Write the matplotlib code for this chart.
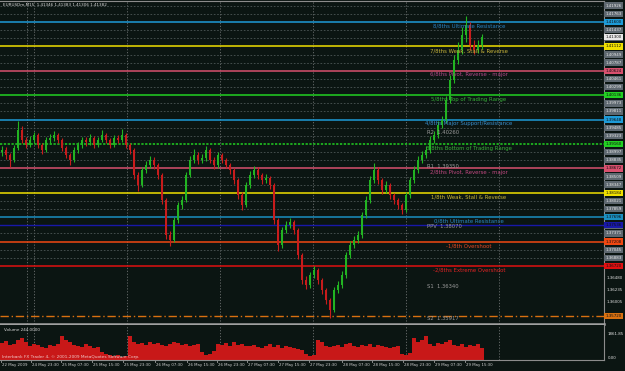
import matplotlib
matplotlib.use('Agg')
import matplotlib.pyplot as plt

# ---------------- data (EURUSDm, aggregated ~1 candle per hour) ----------------
opens = [1.3900,1.3904,1.3894,1.3884,1.3908,1.3944,1.3924,1.3914,1.3924,1.3934,
         1.3914,1.3904,1.3924,1.3928,1.3934,1.3924,1.3908,1.3894,1.3884,1.3904,
         1.3914,1.3924,1.3920,1.3928,1.3914,1.3924,1.3934,1.3924,1.3914,1.3928,
         1.3924,1.3934,1.3914,1.3904,1.3854,1.3834,1.3864,1.3874,1.3884,1.3874,
         1.3854,1.3804,1.3734,1.3724,1.3764,1.3794,1.3804,1.3854,1.3884,1.3894,
         1.3884,1.3888,1.3904,1.3884,1.3874,1.3894,1.3884,1.3874,1.3864,1.3844,
         1.3814,1.3794,1.3834,1.3854,1.3864,1.3854,1.3844,1.3848,1.3834,1.3764,
         1.3714,1.3744,1.3754,1.3760,1.3744,1.3694,1.3644,1.3634,1.3654,1.3664,
         1.3644,1.3624,1.3604,1.3584,1.3624,1.3634,1.3654,1.3694,1.3714,1.3724,
         1.3734,1.3774,1.3804,1.3844,1.3864,1.3844,1.3824,1.3834,1.3814,1.3804,
         1.3794,1.3784,1.3814,1.3844,1.3864,1.3884,1.3894,1.3904,1.3924,1.3934,
         1.3954,1.3964,1.4004,1.4044,1.4084,1.4104,1.4134,1.4154,1.4114,1.4104,
         1.4114]
closes = [1.3904,1.3894,1.3884,1.3908,1.3944,1.3924,1.3914,1.3924,1.3934,1.3914,
          1.3904,1.3924,1.3928,1.3934,1.3924,1.3908,1.3894,1.3884,1.3904,1.3914,
          1.3924,1.3920,1.3928,1.3914,1.3924,1.3934,1.3924,1.3914,1.3928,1.3924,
          1.3934,1.3914,1.3904,1.3854,1.3834,1.3864,1.3874,1.3884,1.3874,1.3854,
          1.3804,1.3734,1.3724,1.3764,1.3794,1.3804,1.3854,1.3884,1.3894,1.3884,
          1.3888,1.3904,1.3884,1.3874,1.3894,1.3884,1.3874,1.3864,1.3844,1.3814,
          1.3794,1.3834,1.3854,1.3864,1.3854,1.3844,1.3848,1.3834,1.3764,1.3714,
          1.3744,1.3754,1.3760,1.3744,1.3694,1.3644,1.3634,1.3654,1.3664,1.3644,
          1.3624,1.3604,1.3584,1.3624,1.3634,1.3654,1.3694,1.3714,1.3724,1.3734,
          1.3774,1.3804,1.3844,1.3864,1.3844,1.3824,1.3834,1.3814,1.3804,1.3794,
          1.3784,1.3814,1.3844,1.3864,1.3884,1.3894,1.3904,1.3924,1.3934,1.3954,
          1.3964,1.4004,1.4044,1.4084,1.4104,1.4134,1.4154,1.4114,1.4104,1.4114,
          1.4130]
highs = [1.3912,1.3910,1.3898,1.3914,1.3962,1.3952,1.3930,1.3932,1.3940,1.3938,
         1.3918,1.3930,1.3936,1.3942,1.3938,1.3928,1.3912,1.3898,1.3910,1.3920,
         1.3930,1.3930,1.3936,1.3932,1.3930,1.3944,1.3938,1.3928,1.3934,1.3934,
         1.3946,1.3938,1.3918,1.3908,1.3860,1.3870,1.3882,1.3892,1.3890,1.3878,
         1.3858,1.3808,1.3742,1.3770,1.3800,1.3812,1.3860,1.3892,1.3906,1.3900,
         1.3896,1.3912,1.3908,1.3890,1.3900,1.3898,1.3888,1.3878,1.3868,1.3848,
         1.3820,1.3840,1.3862,1.3872,1.3870,1.3858,1.3856,1.3852,1.3838,1.3768,
         1.3750,1.3762,1.3768,1.3764,1.3748,1.3698,1.3652,1.3660,1.3672,1.3668,
         1.3648,1.3628,1.3608,1.3630,1.3642,1.3662,1.3700,1.3722,1.3732,1.3742,
         1.3780,1.3812,1.3852,1.3878,1.3870,1.3848,1.3842,1.3838,1.3818,1.3808,
         1.3798,1.3820,1.3850,1.3872,1.3892,1.3902,1.3912,1.3932,1.3942,1.3962,
         1.3972,1.4012,1.4054,1.4094,1.4120,1.4150,1.4172,1.4160,1.4124,1.4124,
         1.4136]
lows = [1.3892,1.3886,1.3870,1.3880,1.3904,1.3918,1.3908,1.3910,1.3918,1.3908,
        1.3896,1.3900,1.3918,1.3922,1.3918,1.3902,1.3888,1.3874,1.3880,1.3898,
        1.3908,1.3912,1.3914,1.3908,1.3910,1.3920,1.3918,1.3908,1.3910,1.3918,
        1.3920,1.3908,1.3896,1.3846,1.3822,1.3830,1.3858,1.3868,1.3866,1.3846,
        1.3796,1.3726,1.3712,1.3720,1.3758,1.3786,1.3800,1.3850,1.3878,1.3876,
        1.3878,1.3882,1.3878,1.3866,1.3868,1.3878,1.3868,1.3856,1.3836,1.3806,
        1.3784,1.3790,1.3828,1.3848,1.3846,1.3836,1.3838,1.3826,1.3756,1.3702,
        1.3708,1.3738,1.3748,1.3736,1.3686,1.3636,1.3626,1.3628,1.3648,1.3636,
        1.3616,1.3596,1.3568,1.3580,1.3618,1.3628,1.3648,1.3688,1.3708,1.3718,
        1.3728,1.3768,1.3798,1.3838,1.3836,1.3816,1.3818,1.3806,1.3796,1.3786,
        1.3776,1.3780,1.3808,1.3838,1.3858,1.3878,1.3888,1.3898,1.3918,1.3928,
        1.3948,1.3958,1.3998,1.4038,1.4076,1.4096,1.4120,1.4104,1.4096,1.4098,
        1.4106]
volumes = [970,1080,860,910,1140,1250,1030,800,910,860,
           740,680,860,800,910,1370,1140,1030,860,800,
           740,910,800,680,740,460,340,290,230,290,
           170,230,1370,1030,910,970,860,1030,910,970,
           860,800,910,1030,970,860,910,800,860,910,
           460,290,340,510,910,860,970,800,1030,860,
           910,800,800,860,740,680,800,910,740,860,
           680,800,740,680,630,570,340,230,290,1140,
           1030,800,740,800,860,740,910,970,800,740,
           860,800,910,740,860,800,740,680,740,800,
           340,290,400,1250,1030,1140,1370,910,800,970,
           910,1030,1140,860,800,910,740,860,800,910,
           680]

time_labels = ["22 May 2009", "24 May 23:30", "25 May 07:30", "25 May 15:30",
               "25 May 23:30", "26 May 07:30", "26 May 15:30", "26 May 23:30",
               "27 May 07:30", "27 May 15:30", "27 May 23:30", "28 May 07:30",
               "28 May 15:30", "28 May 23:30", "29 May 07:30", "29 May 15:30"]
time_pos = [0.5, 8.0, 15.5, 23.25, 31.0, 39.0, 47.0, 54.5, 62.0, 69.75,
            77.5, 85.75, 93.25, 101.0, 108.75, 116.5]
day_sep = [6.75, 8.5, 31.75, 55.0, 78.25, 101.5, 124.75]

mm_levels = [1.41600, 1.41112, 1.40624, 1.40136, 1.39648, 1.39160,
             1.38672, 1.38184, 1.37696, 1.37208, 1.36720]
mm_names = ["8/8ths Ultimate Resistance", "7/8ths Weak, Stall & Reverse",
            "6/8ths Pivot, Reverse - major", "5/8ths Top of Trading Range",
            "4/8ths Major Support/Resistance", "3/8ths Bottom of Trading Range",
            "2/8ths Pivot, Reverse - major", "1/8th Weak, Stall & Reverse",
            "0/8th Ultimate Resistance", "-1/8th Overshoot",
            "-2/8ths Extreme Overshoot"]
mm_line_colors = ["#1e9bd7", "#f0e000", "#d8506e", "#22d022", "#1e9bd7", "#22d022",
                  "#d8506e", "#f0e000", "#1a8fc0", "#f04812", "#e01010"]
mm_text_colors = ["#2a80c0", "#c8b43a", "#b04888", "#38b038", "#3a8cc8", "#38b038",
                  "#c04880", "#c8b43a", "#2a88c0", "#e04a24", "#e02424"]
mm_styles = ["-", "-", "-", "-", "-", (0, (1.5, 1)), "-", "-", "-", "-", "-"]

grey_levels = [1.41926, 1.41763, 1.41437, 1.41275, 1.40949, 1.40787, 1.40461,
               1.40299, 1.39973, 1.39811, 1.39485, 1.39323, 1.38997, 1.38835,
               1.38509, 1.38347, 1.38021, 1.37859, 1.37533, 1.37371, 1.37045,
               1.36883]

pivot_names = ["R2", "R1", "PPV", "S1", "S2"]
pivot_values = [1.40260, 1.39350, 1.38070, 1.36340, 1.35917]
pivot_text_y = [1.39380, 1.38700, 1.37500, 1.36320, 1.35660]
extra_lines = [1.37536, 1.35720]           # navy line, orange dash-dot
extra_colors = ["#1818a8", "#d87010"]
extra_styles = ["-", (0, (6, 2, 1, 2))]
plain_axis_labels = [1.36480, 1.36235, 1.36005]

# ---------------- figure ----------------
BG = "#0b1512"
W, H = 625, 371
fig = plt.figure(figsize=(W / 100, H / 100), dpi=100, facecolor=BG)

ax = fig.add_axes([0, (H - 324) / H, 604 / W, 323 / H], facecolor=BG)
axv = fig.add_axes([0, (H - 360) / H, 604 / W, 35 / H], facecolor=BG)

ymin, ymax = 1.3556, 1.4202
ax.set_xlim(0, 151)
ax.set_ylim(ymin, ymax)
axv.set_xlim(0, 151)
axv.set_ylim(0, 2000)

for a in (ax, axv):
    a.set_xticks([])
    a.set_yticks([])
    for s in a.spines.values():
        s.set_visible(False)
    a.spines["right"].set_visible(True)
    a.spines["right"].set_color("#8c8c8c")
    a.spines["right"].set_linewidth(0.8)
    for xv in day_sep:
        a.axvline(xv, color="#6c7070", lw=0.6, ls=(0, (1.5, 2)), zorder=1)

ax.spines["top"].set_visible(True)
ax.spines["top"].set_color("#8c8c8c")
ax.spines["top"].set_linewidth(0.8)
ax.spines["bottom"].set_visible(True)
ax.spines["bottom"].set_color("#a0a0a0")
ax.spines["bottom"].set_linewidth(1.8)
axv.spines["bottom"].set_visible(True)
axv.spines["bottom"].set_color("#8c8c8c")
axv.spines["bottom"].set_linewidth(0.8)

LBL = 2.9

def axis_label(lv, fc, tc):
    ax.text(1.002, lv, f"{lv:.5f}", transform=ax.get_yaxis_transform(),
            fontsize=LBL, color=tc, va="center", ha="left", clip_on=False,
            bbox=dict(boxstyle="square,pad=0.3", fc=fc, ec="none"))

# grey intermediate lines
for lv in grey_levels:
    ax.axhline(lv, color="#4c5656", lw=0.6, ls=(0, (2, 2)), zorder=1)
    axis_label(lv, "#5e6870", "#e8e8e8")

# murrey math lines
for lv, lc, st in zip(mm_levels, mm_line_colors, mm_styles):
    ax.axhline(lv, color=lc, lw=1.1, ls=st, zorder=2)
    axis_label(lv, lc, "#101010")

for lv, lc, st in zip(extra_lines, extra_colors, extra_styles):
    ax.axhline(lv, color=lc, lw=1.0, ls=st, zorder=2)
    axis_label(lv, lc, "#101010")

for lv in plain_axis_labels:
    ax.text(1.004, lv, f"{lv:.5f}", transform=ax.get_yaxis_transform(),
            fontsize=LBL, color="#e0e0e0", va="center", ha="left", clip_on=False)

# candles
xs = [i + 0.5 for i in range(len(closes))]
up = "#22b422"
dn = "#c81c1c"
cols = [up if c >= o else dn for o, c in zip(opens, closes)]
ax.vlines(xs, lows, highs, colors=cols, lw=0.8, zorder=3)
bottoms = [min(o, c) for o, c in zip(opens, closes)]
heights = [max(abs(c - o), 0.00008) for o, c in zip(opens, closes)]
ax.bar(xs, heights, bottom=bottoms, width=0.45, color=cols, lw=0, zorder=3)

# current price label
axis_label(closes[-1], "#e8e8e8", "#101010")

# level texts
for lv, name, tc in zip(mm_levels, mm_names, mm_text_colors):
    ax.annotate(name, (117.25, lv), xytext=(0, -1.2), textcoords="offset points",
                ha="center", va="top", fontsize=3.9, color=tc, zorder=4)

for nm, pv, ty in zip(pivot_names, pivot_values, pivot_text_y):
    ax.text(106.75, ty, f"{nm}  {pv:.5f}", ha="left", va="center",
            fontsize=3.8, color="#9a9a9a", zorder=4)

# title
fig.text(3 / W, 1 - 5 / H, "EURUSDm,M15  1.41346 1.41383 1.41306 1.41382",
         fontsize=3.0, color="#d8d8d8", ha="left", va="center")

# volume
axv.bar(xs, volumes, width=1.0, color="#c81818", lw=0, zorder=2)
axv.text(0.006, 0.86, "Volume 244.0000", transform=axv.transAxes, fontsize=3.0,
         color="#d8d8d8", ha="left", va="center")
axv.text(0.003, 0.09, "Interbank FX Trader 4, \u00a9 2001-2009 MetaQuotes Software Corp.",
         transform=axv.transAxes, fontsize=3.1, color="#f0c8c8", ha="left", va="center")
axv.text(1.006, 0.75, "1861.85", transform=axv.transAxes, fontsize=LBL,
         color="#e0e0e0", ha="left", va="center", clip_on=False)
axv.text(1.006, 0.05, "0.00", transform=axv.transAxes, fontsize=LBL,
         color="#e0e0e0", ha="left", va="center", clip_on=False)

# time axis labels
for tp, tl in zip(time_pos, time_labels):
    axv.text(tp, -0.08, tl, transform=axv.get_xaxis_transform(), fontsize=2.8,
             color="#d0d0d0", ha="left", va="top", clip_on=False)
    axv.plot([tp - 0.3, tp - 0.3], [0, -0.06], transform=axv.get_xaxis_transform(),
             color="#a0a0a0", lw=0.6, clip_on=False)

fig.savefig("out.png", dpi=100, facecolor=BG)
